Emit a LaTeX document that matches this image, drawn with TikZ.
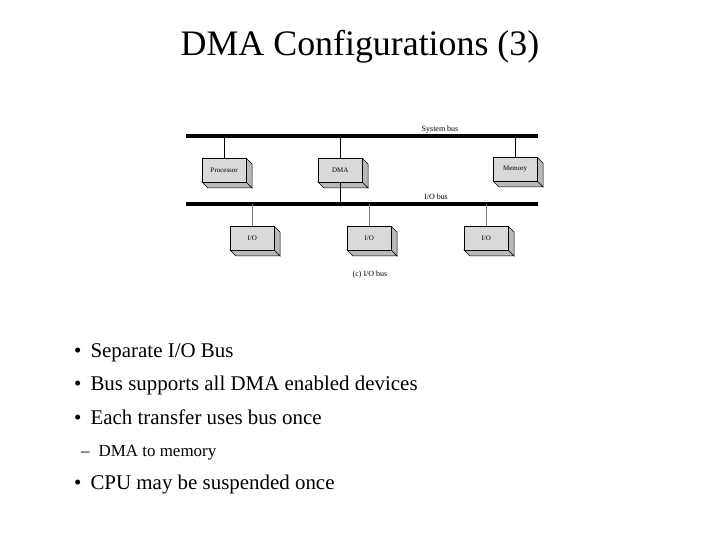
\documentclass[tikz,border=0pt]{standalone}
\usepackage{fontspec}
\setmainfont{Liberation Serif}
\begin{document}
\begin{tikzpicture}[x=1bp,y=-1bp,
  box/.style={draw,fill=gray!30,minimum width=44bp,minimum height=24bp,inner sep=0pt,font=\fontsize{7}{8}\selectfont,
    append after command={}},
  bus/.style={line width=3.5bp},
  link/.style={line width=0.8bp},
  lab/.style={font=\fontsize{8}{9}\selectfont,inner sep=0pt},
  bul/.style={anchor=base west,inner sep=0pt,font=\fontsize{21}{24}\selectfont}]
\useasboundingbox (0,0) rectangle (720,540);
\node[font=\fontsize{36}{40}\selectfont] (title) at (360,47) {DMA Configurations (3)};
% buses
\coordinate (sbL) at (186,136); \coordinate (sbR) at (538,136);
\coordinate (ibL) at (186,204); \coordinate (ibR) at (538,204);
\draw[bus] (sbL) -- (sbR);
\draw[bus] (ibL) -- (ibR);
\node[lab,anchor=south] (sbl) at (440,133) {System bus};
\node[lab,anchor=south] (ibl) at (436,200) {I/O bus};
\node[lab] (cap) at (370,275) {(c) I/O bus};
% 3D boxes
\newcommand{\dbox}[4]{%
  \fill[gray!55,draw=black,line width=0.5bp] (#1+44,#2) -- (#1+50,#2+6) -- (#1+50,#2+30) -- (#1+44,#2+24) -- cycle;
  \fill[gray!55,draw=black,line width=0.5bp] (#1,#2+24) -- (#1+6,#2+30) -- (#1+50,#2+30) -- (#1+44,#2+24) -- cycle;
  \node[box,anchor=north west] (#3) at (#1,#2) {#4};}
\dbox{202}{158}{proc}{Processor}
\dbox{318}{158}{dma}{DMA}
\dbox{493}{157}{mem}{Memory}
\dbox{230}{226}{io1}{I/O}
\dbox{347}{226}{io2}{I/O}
\dbox{464}{226}{io3}{I/O}
\draw[link] (proc.north) -- (proc.north |- sbL);
\draw[link] (dma.north) -- (dma.north |- sbL);
\draw[link] (mem.north) -- (mem.north |- sbL);
\draw[link] (dma.south) -- (dma.south |- ibL);
\draw[link,gray] (io1.north) -- (io1.north |- ibL);
\draw[link,gray] (io2.north) -- (io2.north |- ibL);
\draw[link,gray] (io3.north) -- (io3.north |- ibL);
% bullets
\node[bul] (b1) at (74,357) {•\hspace{9bp}Separate I/O Bus};
\node[bul] (b2) at (74,390) {•\hspace{9bp}Bus supports all DMA enabled devices};
\node[bul] (b3) at (74,424) {•\hspace{9bp}Each transfer uses bus once};
\node[bul,font=\fontsize{17}{20}\selectfont] (s1) at (81,456) {–\hspace{9bp}DMA to memory};
\node[bul] (b4) at (74,489) {•\hspace{9bp}CPU may be suspended once};
\end{tikzpicture}
\end{document}
